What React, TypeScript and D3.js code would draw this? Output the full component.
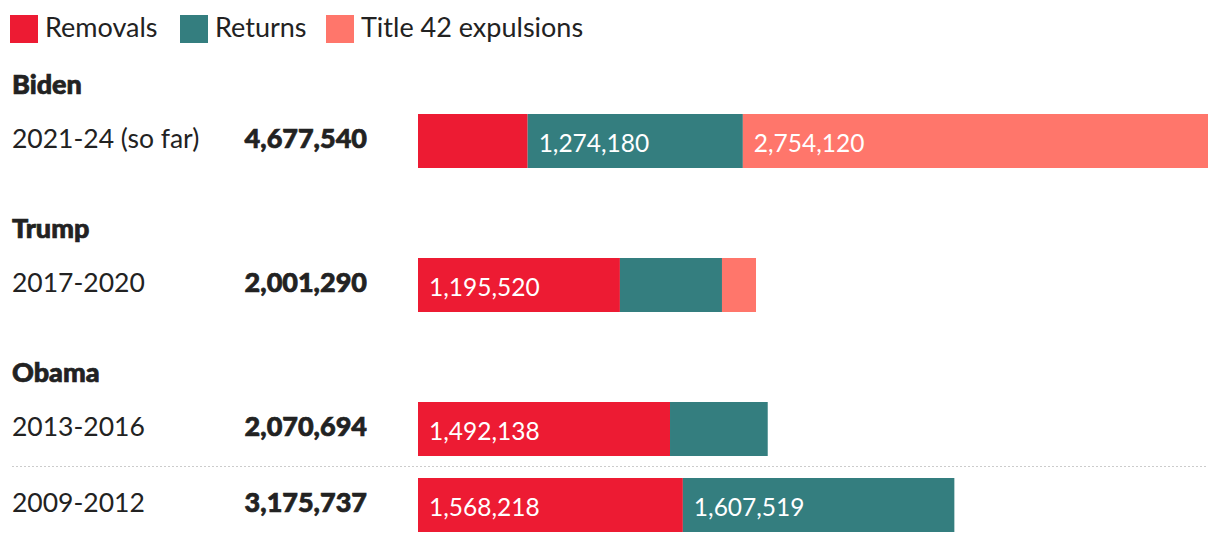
import React from "react";
import * as d3 from "d3";

const seriesNames = ["Removals", "Returns", "Title 42 expulsions"];
const seriesColors = ["#ed1b33", "#347e7f", "#ff766b"];
const groups = ["Biden", "Trump", "Obama", ""];
const periods = ["2021-24 (so far)", "2017-2020", "2013-2016", "2009-2012"];
const totals = [4677540, 2001290, 2070694, 3175737];
const removals = [649240, 1195520, 1492138, 1568218];
const returns = [1274180, 604270, 578556, 1607519];
const title42 = [2754120, 201500, 0, 0];

const W = 1220;
const H = 542;
const FONT = "Lato, 'Open Sans', sans-serif";

export default function App() {
  const x = d3.scaleLinear().domain([0, d3.max(totals) as number]).range([418, 1208]);
  const barTops = [114, 258, 402, 478];
  const barH = 54;
  const fmt = d3.format(",");
  const stackData = periods.map((p, i) => ({ p, vals: [removals[i], returns[i], title42[i]] }));

  return (
    <svg width={W} height={H} style={{ position: "absolute", left: 0, top: 0, fontFamily: FONT }}>
      {seriesNames.map((s, i) => {
        const lx = [10, 180, 326][i];
        return (
          <g key={s}>
            <rect x={lx} y={15} width={28} height={28} fill={seriesColors[i]} />
            <text x={lx + 35} y={37} fontSize={27} fill="#222">{s}</text>
          </g>
        );
      })}
      {stackData.map((d, i) => {
        const top = barTops[i];
        let acc = 0;
        return (
          <g key={d.p}>
            {groups[i] && (
              <text x={12} y={top - 20} fontSize={27} fontWeight={900} fill="#222" stroke="#222" strokeWidth={0.7}>{groups[i]}</text>
            )}
            <text x={12} y={top + 34} fontSize={26.5} fill="#222">{d.p}</text>
            <text x={367} y={top + 34} fontSize={27} fontWeight={900} fill="#222" stroke="#222" strokeWidth={0.7} textAnchor="end">
              {fmt(totals[i])}
            </text>
            {d.vals.map((v, j) => {
              const x0 = x(acc);
              acc += v;
              const x1 = x(acc);
              if (v <= 0) return null;
              return (
                <g key={j}>
                  <rect x={x0} y={top} width={x1 - x0} height={barH} fill={seriesColors[j]} />
                  {x1 - x0 > 150 && (
                    <text x={x0 + 11} y={top + 38} fontSize={24.5} fill="#fff">{fmt(v)}</text>
                  )}
                </g>
              );
            })}
          </g>
        );
      })}
      <line x1={12} x2={1208} y1={466.5} y2={466.5} stroke="#ccc" strokeWidth={1} strokeDasharray="2,2" />
    </svg>
  );
}
